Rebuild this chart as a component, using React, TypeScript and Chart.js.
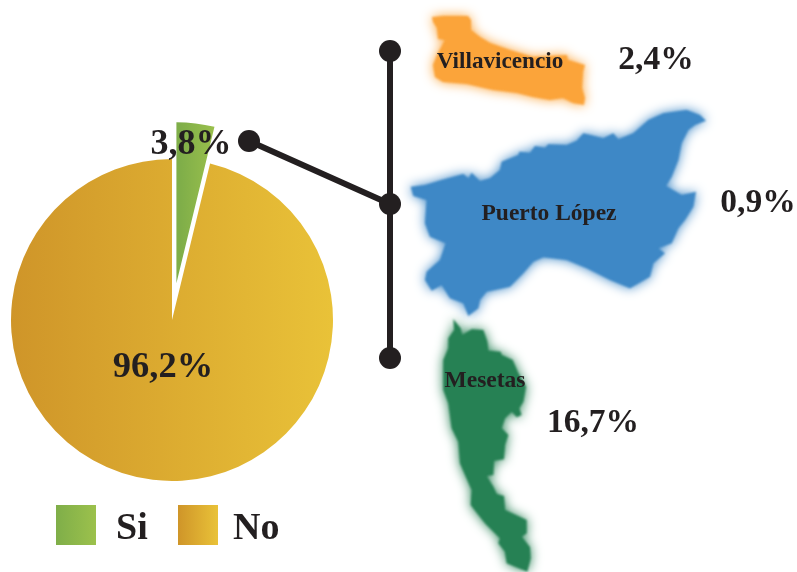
import React, { useEffect, useRef } from "react";
import { Chart, registerables } from "chart.js";

Chart.register(...registerables);

const categories = ["Si", "No"];
const shares = [3.8, 96.2];
const shareText = ["3,8%", "96,2%"];
const regions = ["Villavicencio", "Puerto López", "Mesetas"];
const regionText = ["2,4%", "0,9%", "16,7%"];

const INK = "#231f20";
const FONT = '"Liberation Serif"';
const CX = 172, CY = 320, R = 161, OFFSET = 148;
const SLICE_COLORS = [["#7fae49", "#9cc14c"], ["#cf9529", "#e9c238"]];

// decorative outlines of the three municipalities (page pixels)
const villaOutline = [432,17,443,16,468,16,471,20,471,30,480,37,490,43,510,50,533,57,567,55,568,60,585,65,583,72,582,88,585,98,584,105,573,103,563,98,550,100,533,97,517,93,493,90,467,84,443,82,435,77,433,65,438,53,445,40,438,39,437,28,433,22];
const puertoCrop = [32,260,75,255,125,240,190,222,205,235,215,218,240,243,270,235,300,210,305,185,355,165,358,155,390,158,405,138,435,143,445,133,500,135,530,122,550,100,610,115,640,100,655,118,700,100,745,60,790,40,860,30,900,45,918,62,885,75,865,90,845,130,835,180,815,230,798,258,845,285,888,275,880,320,855,360,835,385,815,430,775,445,795,460,760,490,750,530,690,565,630,540,560,505,500,480,430,472,400,485,370,520,330,560,260,575,240,600,235,625,205,648,190,610,150,595,125,555,95,572,75,540,80,515,120,480,137,430,90,410,75,370,80,300,40,288];
const mesetasCrop = [70,27,92,55,97,75,125,58,160,60,172,95,175,122,212,125,215,135,248,150,265,190,288,230,280,275,268,295,275,315,260,322,245,305,225,325,215,355,235,375,225,405,222,448,192,452,190,495,170,498,190,530,200,552,222,558,225,600,290,630,290,670,275,680,300,712,302,745,292,785,230,760,225,725,205,700,210,685,165,640,122,585,125,540,90,460,85,395,65,355,55,280,40,240,40,150,55,115,55,85,72,60];

const fromCrop = (pts: number[], ox: number, oy: number) =>
  pts.map((v, i) => (i % 2 === 0 ? ox + v / 3 : oy + v / 3));

const shapes = [
  { pts: villaOutline, color: "#fba43a" },
  { pts: fromCrop(puertoCrop, 400, 100), color: "#3e88c6" },
  { pts: fromCrop(mesetasCrop, 430, 310), color: "#268154" },
];

const regionNamePos = [[500, 62], [549, 214], [485, 381]];
const regionValuePos = [[656, 60], [758, 203], [593, 423]];
const legendBoxX = [56, 178];
const legendTextX = [116, 233];

function hGrad(ctx: CanvasRenderingContext2D, x0: number, x1: number, a: string, b: string) {
  const g = ctx.createLinearGradient(x0, 0, x1, 0);
  g.addColorStop(0, a);
  g.addColorStop(1, b);
  return g;
}

const mapsPlugin = {
  id: "maps",
  beforeDatasetsDraw(chart: any) {
    const ctx = chart.ctx;
    ctx.save();
    ctx.strokeStyle = INK;
    ctx.fillStyle = INK;
    ctx.lineWidth = 6;
    ctx.beginPath();
    ctx.moveTo(390, 51);
    ctx.lineTo(390, 358);
    ctx.moveTo(249, 141);
    ctx.lineTo(390, 204);
    ctx.stroke();
    [[390, 51], [390, 204], [390, 358], [249, 141]].forEach(([x, y]) => {
      ctx.beginPath();
      ctx.arc(x, y, 11, 0, Math.PI * 2);
      ctx.fill();
    });
    ctx.restore();
    shapes.forEach((s) => {
      ctx.save();
      ctx.fillStyle = s.color;
      ctx.shadowColor = s.color;
      ctx.shadowBlur = 12;
      ctx.filter = "blur(0.8px)";
      ctx.lineJoin = "round";
      ctx.beginPath();
      for (let i = 0; i < s.pts.length; i += 2) {
        if (i === 0) ctx.moveTo(s.pts[i], s.pts[i + 1]);
        else ctx.lineTo(s.pts[i], s.pts[i + 1]);
      }
      ctx.closePath();
      ctx.fill();
      ctx.restore();
    });
  },
};

const textPlugin = {
  id: "texts",
  afterDatasetUpdate(chart: any) {
    // keep the pulled-out slice at the pie's own radius and full angle
    const arc = chart.getDatasetMeta(0).data[0];
    const grow = (OFFSET / 4) * (1 - Math.sin(arc.circumference));
    arc.outerRadius = R - grow;
    const widen = grow / (Math.PI * R) / 2;
    arc.startAngle -= widen;
    arc.endAngle += widen;
  },
  afterDraw(chart: any) {
    const ctx = chart.ctx;
    ctx.save();
    ctx.fillStyle = INK;
    ctx.textAlign = "center";
    ctx.textBaseline = "middle";
    ctx.font = `bold 36px ${FONT}`;
    ctx.fillText(shareText[0], 191, 145);
    ctx.font = `bold 36.5px ${FONT}`;
    ctx.fillText(shareText[1], 163, 368);
    ctx.font = `bold 33.5px ${FONT}`;
    regionText.forEach((t, i) => ctx.fillText(t, regionValuePos[i][0], regionValuePos[i][1]));
    regions.forEach((t, i) => {
      ctx.font = `bold ${i === 0 ? 23.2 : 23.5}px ${FONT}`;
      ctx.fillText(t, regionNamePos[i][0], regionNamePos[i][1]);
    });
    // legend
    categories.forEach((c, i) => {
      const [a, b] = SLICE_COLORS[i];
      ctx.fillStyle = hGrad(ctx, legendBoxX[i], legendBoxX[i] + 40, a, b);
      ctx.fillRect(legendBoxX[i], 505, 40, 40);
      ctx.fillStyle = INK;
      ctx.textAlign = "left";
      ctx.textBaseline = "alphabetic";
      ctx.font = `bold 38px ${FONT}`;
      ctx.fillText(c, legendTextX[i], 539);
    });
    ctx.restore();
  },
};

export default function App() {
  const ref = useRef<HTMLCanvasElement>(null);
  useEffect(() => {
    const canvas = ref.current!;
    const ctx = canvas.getContext("2d")!;
    const chart = new Chart(canvas, {
      type: "doughnut",
      data: {
        labels: categories,
        datasets: [
          {
            data: shares,
            clip: false,
            backgroundColor: [
              hGrad(ctx, 176, 213, SLICE_COLORS[0][0], SLICE_COLORS[0][1]),
              hGrad(ctx, 11, 332, SLICE_COLORS[1][0], SLICE_COLORS[1][1]),
            ],
            borderWidth: 0,
            offset: [OFFSET, 0],
          } as any,
        ],
      },
      options: {
        animation: false,
        responsive: false,
        cutout: 0,
        radius: R,
        rotation: 0,
        layout: { padding: { left: 0, right: 797 - 2 * CX, top: 2 * CY - 572, bottom: 0 } },
        plugins: {
          tooltip: { enabled: false },
          legend: { display: false },
        },
      } as any,
      plugins: [mapsPlugin, textPlugin],
    });
    return () => chart.destroy();
  }, []);
  return (
    <div style={{ position: "absolute", left: 0, top: 0, width: 797, height: 572, background: "#fff" }}>
      <canvas ref={ref} width={797} height={572} style={{ display: "block" }} />
    </div>
  );
}
